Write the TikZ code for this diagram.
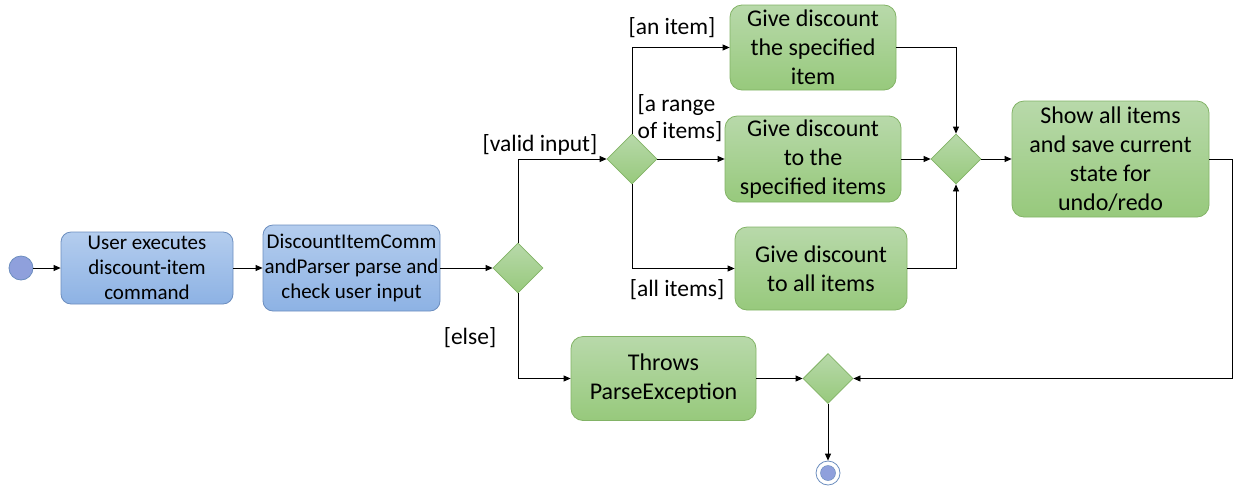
\documentclass[tikz,border=0pt]{standalone}
\usepackage{fontspec}
\setmainfont{Carlito}
\usetikzlibrary{arrows.meta,shapes.geometric,calc}
\definecolor{gtop}{RGB}{184,217,170}
\definecolor{gbot}{RGB}{151,201,124}
\definecolor{gbord}{RGB}{130,179,102}
\definecolor{btop}{RGB}{180,205,238}
\definecolor{bbot}{RGB}{141,178,228}
\definecolor{bbord}{RGB}{108,142,191}
\definecolor{dotfill}{RGB}{143,160,220}
\tikzset{
  x=1pt,y=-1pt,
  greenbox/.style={draw=gbord,line width=0.8pt,rounded corners=12pt,top color=gtop,bottom color=gbot,align=center,font=\fontsize{24}{29}\selectfont,inner sep=0pt},
  bluebox/.style={draw=bbord,line width=0.8pt,rounded corners=10pt,top color=btop,bottom color=bbot,align=center,font=\fontsize{21}{25}\selectfont,inner sep=0pt},
  decision/.style={diamond,draw=gbord,line width=0.8pt,top color=gtop,bottom color=gbot,minimum width=50pt,minimum height=50pt,inner sep=0pt},
  flow/.style={draw=black,line width=0.8pt,-{Triangle[length=7pt,width=6pt]}},
  guard/.style={font=\fontsize{23.5}{27}\selectfont,align=left,inner sep=0pt}
}
\begin{document}
\begin{tikzpicture}
\useasboundingbox (0,0) rectangle (1242,491);
% start
\node[circle,draw=bbord,fill=dotfill,line width=0.8pt,minimum size=24pt,inner sep=0pt] (start) at (21,268) {};
\node[bluebox,minimum width=172pt,minimum height=72pt] (b1) at (147,268) {User executes\\discount-item\\command};
\node[bluebox,minimum width=177pt,minimum height=86pt] (b2) at (351.5,268) {DiscountItemComm\\andParser parse and\\check user input};
\node[decision] (d1) at (518,268) {};
\node[decision] (d2) at (632,159) {};
\node[greenbox,minimum width=166pt,minimum height=85pt] (b3) at (813,47.5) {Give discount\\the specified\\item};
\node[greenbox,minimum width=176pt,minimum height=86pt] (b4) at (813,159) {Give discount\\to the\\specified items};
\node[greenbox,minimum width=172pt,minimum height=83pt] (b5) at (821,268.5) {Give discount\\to all items};
\node[decision] (d3) at (956,159) {};
\node[greenbox,minimum width=197pt,minimum height=116pt] (b6) at (1110.5,159) {Show all items\\and save current\\state for\\undo/redo};
\node[greenbox,minimum width=185pt,minimum height=84pt] (b7) at (663.5,378.5) {Throws\\ParseException};
\node[decision] (d4) at (828,378.5) {};
% end
\node[circle,draw=bbord,line width=0.8pt,minimum size=24pt,inner sep=0pt,fill=white] (end) at (828,473) {};
\node[circle,fill=dotfill,draw=bbord,line width=0.5pt,minimum size=15pt,inner sep=0pt] (endin) at (end.center) {};
\coordinate (c1) at (1232,159);
% connectors
\draw[flow] (start) -- (b1);
\draw[flow] (b1) -- (b2);
\draw[flow] (b2.east) -- (d1.west);
\draw[flow] (d1.north) |- (d2.west);
\draw[flow] (d1.south) |- (b7.west);
\draw[flow] (d2.north) |- (b3.west);
\draw[flow] (d2.east) -- (b4.west);
\draw[flow] (d2.south) |- (b5.west);
\draw[flow] (b3.east) -| (d3.north);
\draw[flow] (b4.east) -- (d3.west);
\draw[flow] (b5.east) -| (d3.south);
\draw[flow] (d3.east) -- (b6.west);
\draw[flow] (b6.east) -- (c1) |- (d4.east);
\draw[flow] (b7.east) -- (d4.west);
\draw[flow] (d4.south) -- (end.north);
% guards
\node[guard] (g1) at (540,145) {[valid input]};
\node[guard] (g2) at (470,338) {[else]};
\node[guard] (g3) at (672,28) {[an item]};
\node[guard] (g4) at (680,118) {[a range\\of items]};
\node[guard] (g5) at (677,290) {[all items]};
\end{tikzpicture}
\end{document}
